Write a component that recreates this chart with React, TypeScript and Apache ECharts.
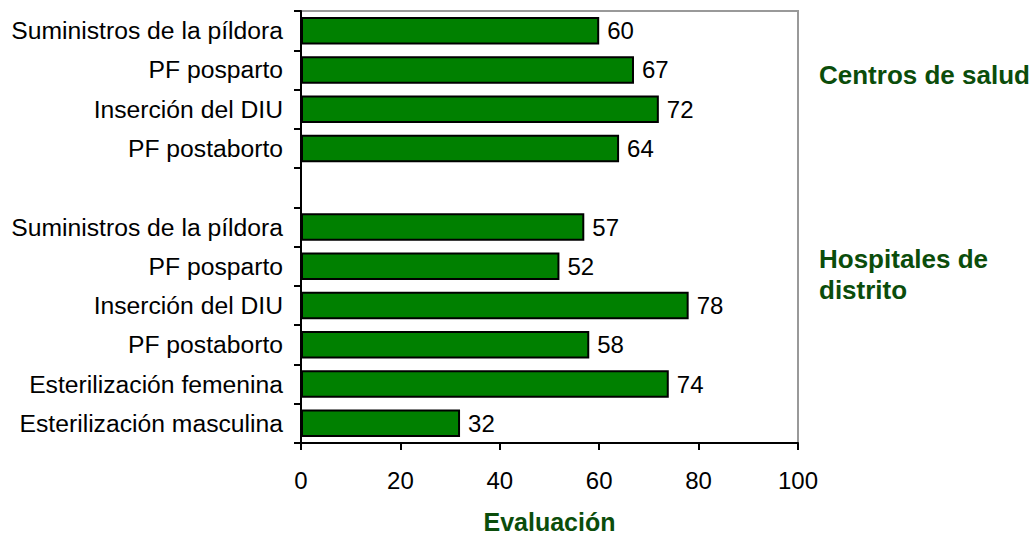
import React, { useEffect, useRef } from "react";
import * as echarts from "echarts";

const categories = [
  "Suministros de la píldora",
  "PF posparto",
  "Inserción del DIU",
  "PF postaborto",
  "",
  "Suministros de la píldora",
  "PF posparto",
  "Inserción del DIU",
  "PF postaborto",
  "Esterilización femenina",
  "Esterilización masculina",
];
const values: (number | string)[] = [60, 67, 72, 64, "-", 57, 52, 78, 58, 74, 32];
const xTicks = [0, 20, 40, 60, 80, 100];
const xTitle = "Evaluación";
const groupLabels = ["Centros de salud", "Hospitales de\ndistrito"];

const FONT = "'Liberation Sans', Arial, sans-serif";
const DARK = "#0b4d0b";

export default function App() {
  const ref = useRef<HTMLDivElement>(null);
  useEffect(() => {
    if (!ref.current) return;
    const chart = echarts.init(ref.current, null, { renderer: "svg" });
    chart.setOption({
      animation: false,
      textStyle: { fontFamily: FONT },
      grid: {
        left: 301,
        right: 238,
        top: 11,
        bottom: 92,
        show: true,
        borderColor: "#999999",
        borderWidth: 2,
        containLabel: false,
        outerBoundsMode: "none",
      },
      xAxis: {
        type: "value",
        min: xTicks[0],
        max: xTicks[xTicks.length - 1],
        interval: 20,
        name: xTitle,
        nameLocation: "middle",
        nameGap: 66,
        nameTextStyle: { fontFamily: FONT, fontSize: 25, fontWeight: "bold", color: DARK },
        axisLine: { show: true, lineStyle: { color: "#000", width: 2 } },
        axisTick: { show: true, length: 7, lineStyle: { color: "#000", width: 2 } },
        axisLabel: { fontFamily: FONT, fontSize: 24, color: "#000", margin: 25 },
        splitLine: { show: false },
      },
      yAxis: {
        type: "category",
        data: categories,
        inverse: true,
        axisLine: { show: true, lineStyle: { color: "#000", width: 2 } },
        axisTick: { show: true, length: 7, inside: false, lineStyle: { color: "#000", width: 2 } },
        axisLabel: { fontFamily: FONT, fontSize: 24.7, color: "#000", margin: 18 },
        splitLine: { show: false },
      },
      series: [
        {
          type: "bar",
          data: values,
          barCategoryGap: "30%",
          itemStyle: { color: "#008000", borderColor: "#000", borderWidth: 2 },
          label: {
            show: true,
            position: "right",
            distance: 8,
            fontFamily: FONT,
            fontSize: 24,
            color: "#000",
          },
        },
      ],
      graphic: [
        {
          type: "text",
          left: 819,
          top: 62,
          style: { text: groupLabels[0], fontFamily: FONT, fontSize: 26, fontWeight: "bold", fill: DARK },
        },
        {
          type: "text",
          left: 819,
          top: 243,
          style: { text: groupLabels[1], fontFamily: FONT, fontSize: 26, fontWeight: "bold", fill: DARK, lineHeight: 31 },
        },
      ],
    });
    return () => chart.dispose();
  }, []);
  return <div ref={ref} style={{ width: 1036, height: 535, position: "absolute", left: 0, top: 0 }} />;
}
